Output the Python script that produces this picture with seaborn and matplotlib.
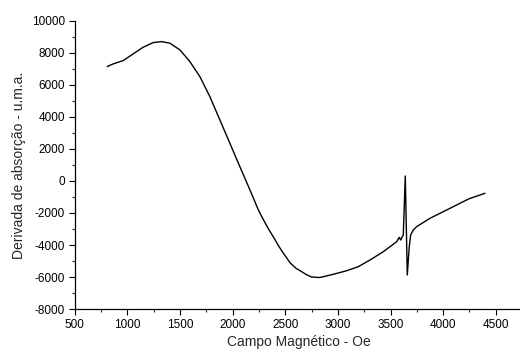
import seaborn as sns
import pandas as pd
from matplotlib import pyplot as plt
from matplotlib.ticker import MultipleLocator

# field (Oe) and absorption derivative (a.u.)
campo = [807, 864, 959, 1054, 1149, 1244, 1324, 1403, 1498, 1593, 1688, 1783,
         1878, 1973, 2068, 2164, 2243, 2290, 2340, 2385, 2440, 2480, 2544, 2600,
         2639, 2700, 2750, 2829, 2955, 3083, 3193, 3304, 3431, 3558, 3583, 3596,
         3606, 3621, 3640, 3659, 3678, 3691, 3716, 3748, 3875, 4065, 4160, 4250,
         4397]
derivada = [7144, 7313, 7519, 7938, 8356, 8644, 8706, 8606, 8188, 7456, 6519, 5269,
            3813, 2356, 894, -563, -1800, -2400, -3000, -3480, -4100, -4500, -5100, -5450,
            -5600, -5850, -6000, -6030, -5831, -5606, -5356, -4938, -4419, -3794, -3519, -3688,
            -3550, -3375, 312, -5875, -4104, -3375, -3063, -2854, -2331, -1708, -1394, -1100,
            -771]

df = pd.DataFrame({"campo": campo, "derivada": derivada})

sns.set_style("ticks")
plt.rcParams['font.family'] = ['Liberation Sans', 'DejaVu Sans']
plt.rcParams['axes.unicode_minus'] = False

fig = plt.figure(figsize=(5.2, 3.54), dpi=100)
ax = fig.add_axes([0.144, 0.127, 0.86, 0.814])

sns.lineplot(data=df, x="campo", y="derivada", color="black", linewidth=1.0,
             sort=False, ax=ax)

ax.set_xlim(500, 4750)
ax.set_ylim(-8000, 10000)
ax.xaxis.set_major_locator(MultipleLocator(500))
ax.xaxis.set_minor_locator(MultipleLocator(250))
ax.yaxis.set_major_locator(MultipleLocator(2000))
ax.yaxis.set_minor_locator(MultipleLocator(1000))
ax.tick_params(which="major", direction="out", length=4, width=0.8, labelsize=8.5,
               colors="black", pad=3)
ax.tick_params(which="minor", direction="out", length=2.5, width=0.8)

sns.despine(ax=ax)
for s in ("left", "bottom"):
    ax.spines[s].set_color("black")
    ax.spines[s].set_linewidth(0.9)

ax.set_xlabel("Campo Magnético - Oe", fontsize=10, labelpad=3)
ax.set_ylabel("Derivada de absorção - u.m.a.", fontsize=10, labelpad=4)

fig.savefig("out.png", dpi=100)
